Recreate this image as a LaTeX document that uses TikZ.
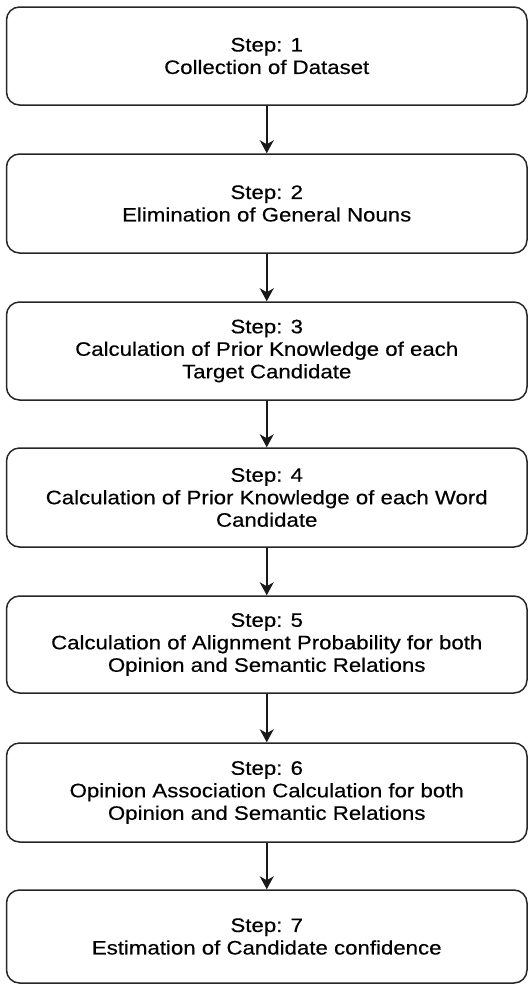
\documentclass[tikz,border=0pt]{standalone}
\usepackage{fontspec}
\setmainfont{Liberation Sans}[FakeStretch=1.14,FakeBold=0.4]
\usetikzlibrary{arrows.meta}
\begin{document}
\begin{tikzpicture}[x=1pt,y=-1pt,
  stepbox/.style={draw=black!85, line width=1.5pt, rounded corners=13pt,
    minimum width=520.5pt, inner sep=0pt, align=center,
    font=\fontsize{19.5}{22.5}\selectfont},
  arr/.style={draw=black!90, line width=1.5pt, -{Stealth[length=13pt,width=14pt,inset=4pt]}}]
\useasboundingbox (0,0) rectangle (530,986);
\node[stepbox, minimum height=98pt] (s1) at (266.75,56) {Step: 1\\Collection of Dataset};
\node[stepbox, minimum height=99pt] (s2) at (266.75,203.5) {Step: 2\\Elimination of General Nouns};
\node[stepbox, minimum height=98pt] (s3) at (266.75,351) {Step: 3\\Calculation of Prior Knowledge of each\\Target Candidate};
\node[stepbox, minimum height=99pt] (s4) at (266.75,497.5) {Step: 4\\Calculation of Prior Knowledge of each Word\\Candidate};
\node[stepbox, minimum height=97pt] (s5) at (266.75,644.5) {Step: 5\\Calculation of Alignment Probability for both\\Opinion and Semantic Relations};
\node[stepbox, minimum height=99pt] (s6) at (266.75,792.5) {Step: 6\\Opinion Association Calculation for both\\Opinion and Semantic Relations};
\node[stepbox, minimum height=93pt] (s7) at (266.75,936.5) {Step: 7\\Estimation of Candidate confidence};
\draw[arr] (s1) -- (s2);
\draw[arr] (s2) -- (s3);
\draw[arr] (s3) -- (s4);
\draw[arr] (s4) -- (s5);
\draw[arr] (s5) -- (s6);
\draw[arr] (s6) -- (s7);
\end{tikzpicture}
\end{document}
